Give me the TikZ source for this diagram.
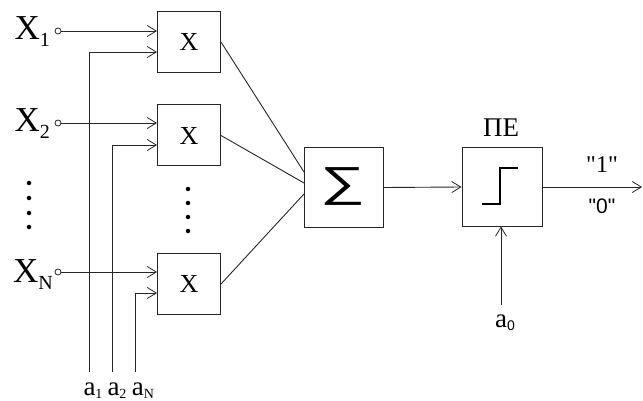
\documentclass[tikz,border=0pt]{standalone}
\usepackage{fontspec}
\setmainfont{Liberation Serif}
\newfontfamily\sansf{Liberation Sans}[Ligatures=TeXOff]
\newfontfamily\qserif{Liberation Serif}[Ligatures=TeXOff]
\usetikzlibrary{arrows.meta}
\tikzset{
  box/.style={draw=black!85, line width=1pt, minimum width=63pt, minimum height=61pt, inner sep=0pt, font=\fontsize{26}{26}\selectfont},
  bigbox/.style={draw=black!85, line width=1pt, minimum width=79pt, minimum height=79pt, inner sep=0pt},
  wire/.style={draw=black!85, line width=0.9pt},
  arr/.style={wire, -{Straight Barb[length=9pt,width=11pt,line width=0.8pt]}},
  term/.style={draw=black!85, line width=0.8pt, circle, inner sep=0pt, minimum size=6pt, fill=white},
  inlab/.style={anchor=base east, inner sep=0pt, font=\fontsize{35}{35}\selectfont},
  alab/.style={anchor=base, inner sep=0pt, font=\fontsize{27}{27}\selectfont},
  dot/.style={fill=black, circle, inner sep=0pt, minimum size=4.5pt},
}
\newcommand{\subsc}[1]{\raisebox{-7pt}{\fontsize{20}{20}\selectfont #1}}
\newcommand{\asub}[1]{\raisebox{-3pt}{\fontsize{14}{14}\selectfont #1}}
\begin{document}
\begin{tikzpicture}[x=1pt,y=-1pt]
\useasboundingbox (0,0) rectangle (643,401);
% multiplier boxes
\node[box] (m1) at (189,42) {X};
\node[box] (m2) at (189,135.5) {X};
\node[box] (m3) at (189,284) {X};
% summator and threshold element
\node[bigbox] (s) at (344,187.5) {};
\node[inner sep=0pt, xscale=1.5, font=\sansf\fontsize{42}{42}\selectfont] (sig) at (343,187) {∑};
\node[bigbox, minimum width=80pt, minimum height=78pt] (pe) at (502,187) {};
\node[anchor=base, inner sep=0pt, font=\fontsize{27}{27}\selectfont] (pel) at (501,137) {ПЕ};
\draw[line width=2pt, line join=miter] (482,204) -- (500,204) -- (500,168) -- (518,168);
% input terminals
\node[term] (c1) at (58,31) {};
\node[term] (c2) at (58,123) {};
\node[term] (c3) at (58,272) {};
\node[inlab] (x1) at (50,40) {X\subsc{1}};
\node[inlab] (x2) at (50,132) {X\subsc{2}};
\node[inlab] (x3) at (53,282) {X\subsc{N}};
\draw[arr] (c1) -- (c1 -| m1.west);
\draw[arr] (c2) -- (c2 -| m2.west);
\draw[arr] (c3) -- (c3 -| m3.west);
% weight lines
\coordinate (a1) at (89,372);
\coordinate (a2) at (112,372);
\coordinate (aN) at (135,372);
\draw[arr] (a1) |- ([yshift=-10pt]m1.west);
\draw[arr] (a2) |- ([yshift=-9.5pt]m2.west);
\draw[arr] (aN) |- ([yshift=-9pt]m3.west);
\node[alab] (la1) at (93,395) {a\asub{1}};
\node[alab] (la2) at (117,395) {a\asub{2}};
\node[alab] (laN) at (143,395) {a\asub{N}};
% dots
\foreach \y in {183,198,213,227} \node[dot] at (29,\y) {};
\foreach \y in {189,203,217,231} \node[dot] at (188,\y) {};
% to summator
\draw[wire] (m1.east) -- ([yshift=15.5pt]s.west);
\draw[wire] (m2.east) -- ([yshift=4.5pt]s.west);
\draw[wire] (m3.east) -- ([yshift=-6.5pt]s.west);
\draw[arr] (s.east) -- (pe.west);
% output
\coordinate (out) at (642,187);
\draw[arr] (pe.east) -- (out);
\node[anchor=base, inner sep=0pt, font=\qserif\fontsize{24}{24}\selectfont] (one) at (602,173) {"1"};
\node[anchor=base, inner sep=0pt, font=\sansf\fontsize{21}{21}\selectfont] (zero) at (602,213) {"0"};
% threshold input
\coordinate (a0) at (501,305);
\draw[arr] (a0) -- (a0 |- pe.south);
\node[alab] (la0) at (505,327) {a\asub{\sansf 0}};
\end{tikzpicture}
\end{document}
